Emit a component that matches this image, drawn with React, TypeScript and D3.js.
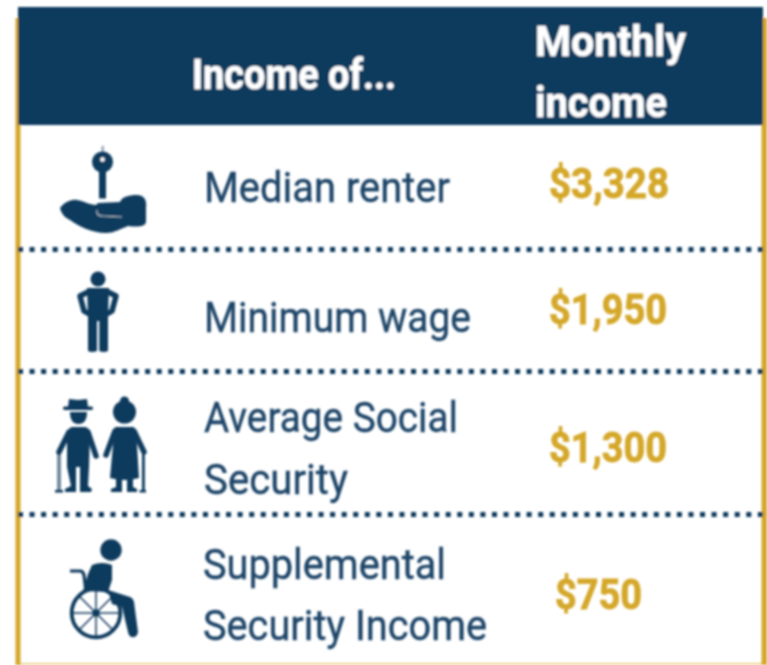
import React from "react";
import * as d3 from "d3";

const headerLeft = "Income of...";
const headerRight = ["Monthly", "income"];
const groups = ["Median renter", "Minimum wage", "Average Social|Security", "Supplemental|Security Income"];
const incomes = [3328, 1950, 1300, 750];

const navy = "#103b5d";
const gold = "#d4a729";
const rowText = "#1f4568";

// row layout
const rowLines = [125, 249.5, 371.5, 514.5, 663];
const labelBaselines = [[201.5], [331.5], [431.5, 493.5], [579, 640]];
const labelWidths = [[246], [267], [254, 144], [243, 284]];
const labelX = [204, 204, 204, 203];
const valueBaselines = [197.5, 323.5, 461.5, 608.5];
const valueX = [549, 549, 549, 555];
const valueWidths = [120, 118, 118, 87];

function drawHand(g) {
    g.append("circle").attr("cx", 102.5).attr("cy", 162).attr("r", 10.5);
    g.append("circle").attr("cx", 102.5).attr("cy", 159.5).attr("r", 2.2).attr("fill", "#fff");
    g.append("rect").attr("x", 101.5).attr("y", 146).attr("width", 2.5).attr("height", 6).attr("opacity", 0.45);
    g.append("rect").attr("x", 99).attr("y", 170).attr("width", 7).attr("height", 28.5);
    g.append("path").attr(
        "d",
        "M60,208 C64,203 70,199 77,200 C84,201 90,205 96,205 L98,203 L120,202 C122,197 128,195 137,195 C144,195 147,200 146,208 L146,222 C145,227 138,227 128,226 C122,228 115,233 106,233 C92,233 78,226 70,220 C65,218 61,213 60,208Z"
    );
    g.append("path")
        .attr("d", "M97,210 L97,213 Q98,216 103,216 L122,217")
        .attr("fill", "none")
        .attr("stroke", "#fff")
        .attr("stroke-width", 1.1)
        .attr("opacity", 0.7);
}

function drawPerson(g) {
    g.append("circle").attr("cx", 98).attr("cy", 279).attr("r", 7.5);
    g.append("path").attr("d", "M87,288 L109,288 L108,318 L108,351 Q104,353 99.2,351 L99.2,321 L97,321 L97,351 Q92,353 88,351 L88,318Z");
    g.append("path")
        .attr("d", "M90,291 L80,296 L84,311 L89,314 M106,291 L116,296 L112,311 L107,314")
        .attr("fill", "none")
        .attr("stroke", navy)
        .attr("stroke-width", 5.5)
        .attr("stroke-linejoin", "round");
}

function drawCouple(g) {
    // man
    g.append("path").attr("d", "M68,407 L69,399 L78,400 L87,399 L88,407Z");
    g.append("rect").attr("x", 63).attr("y", 406.5).attr("width", 30).attr("height", 3.5).attr("rx", 1.7);
    g.append("path").attr("d", "M70,412 L87,412 Q87,424 78.5,424 Q70,424 70,412Z");
    g.append("path").attr("d", "M72,427 L85,427 Q90,428 90,434 L89,467 L88,486 L92,489 L91,492 L80,492 L80,467 L76,467 L76,492 L65,492 L65,489 L71,486 L67,467 L67,434 Q68,428 72,427Z");
    g.append("path")
        .attr("d", "M69,432 L59,452 M88,432 L96,456")
        .attr("fill", "none")
        .attr("stroke", navy)
        .attr("stroke-width", 5.5)
        .attr("stroke-linecap", "round");
    g.append("rect").attr("x", 57).attr("y", 454).attr("width", 4).attr("height", 38).attr("opacity", 0.6);
    g.append("rect").attr("x", 55).attr("y", 490).attr("width", 8).attr("height", 2.5);
    // woman
    g.append("circle").attr("cx", 124.5).attr("cy", 412).attr("r", 11.5);
    g.append("circle").attr("cx", 124.5).attr("cy", 401).attr("r", 4.5);
    g.append("path").attr("d", "M115,427 L134,427 L137,445 L139,478 Q125,482 110,478 L113,445Z");
    g.append("path").attr("d", "M116,478 L122,478 L122,492 L111,492 L111,489 L116,487Z M127,478 L133,478 L133,487 L137,489 L137,492 L127,492Z");
    g.append("path")
        .attr("d", "M115,431 L106,455 M134,431 L144,452")
        .attr("fill", "none")
        .attr("stroke", navy)
        .attr("stroke-width", 5.5)
        .attr("stroke-linecap", "round");
    g.append("rect").attr("x", 142).attr("y", 454).attr("width", 2.8).attr("height", 38);
    g.append("rect").attr("x", 139.5).attr("y", 490).attr("width", 6.5).attr("height", 2.5);
}

function drawWheelchair(g) {
    const cx = 96;
    const cy = 613;
    g.append("circle").attr("cx", 111).attr("cy", 550).attr("r", 10.7);
    g.append("path").attr("d", "M92,565 Q102,561 112,565 L112,580 L108,592 L83,591 L88,574Z");
    g.append("path")
        .attr("d", "M70,571 L80,571 Q83,571 84,575 L86,592")
        .attr("fill", "none")
        .attr("stroke", navy)
        .attr("stroke-width", 3.2);
    g.append("path").attr("d", "M108,590 L130,597 Q133,598 134,602 L138,632 Q137,638 132,637 Q129,637 128,632 L122,607 L112,604Z");
    g.append("circle")
        .attr("cx", cx)
        .attr("cy", cy)
        .attr("r", 24.3)
        .attr("fill", "none")
        .attr("stroke", navy)
        .attr("stroke-width", 3.8);
    d3.range(8).forEach((i) => {
        const a = (i * Math.PI) / 4;
        g.append("line")
            .attr("x1", cx)
            .attr("y1", cy)
            .attr("x2", cx + 24 * Math.cos(a))
            .attr("y2", cy + 24 * Math.sin(a))
            .attr("stroke", navy)
            .attr("stroke-width", 1.5);
    });
    g.append("circle").attr("cx", cx).attr("cy", cy).attr("r", 3.8);
}

const iconDrawers = [drawHand, drawPerson, drawCouple, drawWheelchair];

export default function App() {
    const ref = React.useRef(null);
    React.useEffect(() => {
        const width = 767;
        const height = 665;
        const left = 18;
        const right = 763;
        const fmt = d3.format("$,");
        const font = "Roboto, 'Liberation Sans', sans-serif";

        const svg = d3.select(ref.current).attr("width", width).attr("height", height);
        svg.selectAll("*").remove();

        svg.append("defs")
            .append("filter")
            .attr("id", "soft")
            .attr("filterUnits", "userSpaceOnUse")
            .attr("x", 0)
            .attr("y", 0)
            .attr("width", width)
            .attr("height", height)
            .append("feGaussianBlur")
            .attr("stdDeviation", 0.9);

        const root = svg.append("g").attr("filter", "url(#soft)");

        // gold frame behind the header
        root.append("rect").attr("x", 15.5).attr("y", 18).attr("width", 5).attr("height", 647).attr("fill", gold);
        root.append("rect").attr("x", 761.5).attr("y", 18).attr("width", 5.5).attr("height", 647).attr("fill", gold);
        root.append("rect").attr("x", 16).attr("y", rowLines[4]).attr("width", 751).attr("height", 1.5).attr("fill", gold).attr("opacity", 0.6);

        // header
        root.append("rect").attr("x", left).attr("y", 7).attr("width", right - left).attr("height", 118).attr("fill", navy);

        const headerText = (str, x, y, len) =>
            root
                .append("text")
                .attr("x", x)
                .attr("y", y)
                .attr("textLength", len)
                .attr("lengthAdjust", "spacingAndGlyphs")
                .attr("font-family", font)
                .attr("font-weight", 700)
                .attr("font-size", 42)
                .attr("fill", "#fff")
                .attr("stroke", "#fff")
                .attr("stroke-width", 0.5)
                .text(str);
        headerText(headerLeft, 192, 89, 204);
        headerText(headerRight[0], 535, 56, 151);
        headerText(headerRight[1], 535, 117, 132);

        // dotted separators
        root.selectAll("line.sep")
            .data(rowLines.slice(1, 4))
            .join("line")
            .attr("class", "sep")
            .attr("x1", 18)
            .attr("x2", 763)
            .attr("y1", (d) => d)
            .attr("y2", (d) => d)
            .attr("stroke", navy)
            .attr("stroke-width", 5)
            .attr("stroke-dasharray", "5 6.56");

        // rows
        groups.forEach((label, i) => {
            const icon = root.append("g").attr("fill", navy);
            iconDrawers[i](icon);

            label.split("|").forEach((line, j) => {
                root.append("text")
                    .attr("x", labelX[i])
                    .attr("y", labelBaselines[i][j])
                    .attr("textLength", labelWidths[i][j])
                    .attr("lengthAdjust", "spacingAndGlyphs")
                    .attr("font-family", font)
                    .attr("font-size", 42)
                    .attr("fill", rowText)
                    .attr("stroke", rowText)
                    .attr("stroke-width", 0.4)
                    .text(line);
            });

            root.append("text")
                .attr("x", valueX[i])
                .attr("y", valueBaselines[i])
                .attr("textLength", valueWidths[i])
                .attr("lengthAdjust", "spacingAndGlyphs")
                .attr("font-family", font)
                .attr("font-weight", 700)
                .attr("font-size", 42)
                .attr("fill", gold)
                .attr("stroke", gold)
                .attr("stroke-width", 0.8)
                .text(fmt(incomes[i]));
        });
    }, []);

    return <svg ref={ref} style={{ position: "absolute", left: 0, top: 0, display: "block" }}></svg>;
}
